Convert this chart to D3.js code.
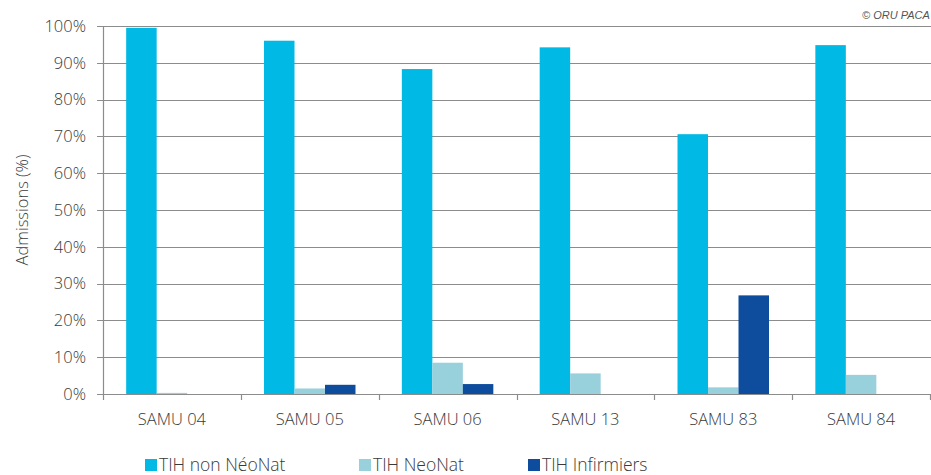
<!DOCTYPE html>
<html>
<head>
<meta charset="utf-8">
<script src="https://cdn.jsdelivr.net/npm/d3@7/dist/d3.min.js"></script>
<style>
  html, body { margin: 0; padding: 0; background: #fff; }
  svg { display: block; font-family: "Open Sans", "DejaVu Sans", sans-serif; }
</style>
</head>
<body>
<svg id="chart" width="931" height="475"></svg>
<script>
// Admissions by SAMU and type of inter-hospital transfer (%)
const categories = ["SAMU 04", "SAMU 05", "SAMU 06", "SAMU 13", "SAMU 83", "SAMU 84"];
const seriesNames = ["TIH non NéoNat", "TIH NeoNat", "TIH Infirmiers"];
const nonNeoNat = [99.5, 96.0, 88.3, 94.2, 70.6, 94.8];
const neoNat = [0.3, 1.5, 8.5, 5.6, 1.8, 5.2];
const infirmiers = [0, 2.5, 2.7, 0, 26.8, 0];
const yTicks = [0, 10, 20, 30, 40, 50, 60, 70, 80, 90, 100];
const colors = ["#00B9E4", "#98D0DC", "#0E4C9E"];

const series = [nonNeoNat, neoNat, infirmiers];

const svg = d3.select("#chart");
const margin = { left: 103, right: 1, top: 26, bottom: 81 };
const W = 931, H = 475;
const textColor = "#3a3a3a";
const fontSize = 16.5;

const x = d3.scaleBand()
  .domain(categories)
  .range([margin.left, W - margin.right])
  .paddingInner(0)
  .paddingOuter(0);

const xInner = d3.scaleBand()
  .domain(seriesNames)
  .range([0, x.bandwidth()])
  .paddingOuter(0.76)
  .paddingInner(0);

const y = d3.scaleLinear()
  .domain([0, 100])
  .range([H - margin.bottom, margin.top]);

// horizontal gridlines
svg.append("g")
  .selectAll("line")
  .data(yTicks)
  .join("line")
  .attr("x1", margin.left - 6)
  .attr("x2", W)
  .attr("y1", d => Math.round(y(d)) + 0.5)
  .attr("y2", d => Math.round(y(d)) + 0.5)
  .attr("stroke", "#8c8c8c")
  .attr("stroke-width", 1.2);

// y tick labels
svg.append("g")
  .selectAll("text")
  .data(yTicks)
  .join("text")
  .attr("x", margin.left - 17)
  .attr("y", d => y(d))
  .attr("dy", "0.35em")
  .attr("text-anchor", "end")
  .attr("font-size", fontSize)
  .attr("font-weight", 300)
  .attr("fill", textColor)
  .text(d => d + "%");

// bars
const groups = svg.append("g")
  .selectAll("g")
  .data(categories)
  .join("g")
  .attr("transform", d => `translate(${x(d)},0)`);

groups.selectAll("rect")
  .data((d, i) => series.map((s, k) => ({ name: seriesNames[k], value: s[i], k })))
  .join("rect")
  .attr("x", d => xInner(d.name))
  .attr("width", xInner.bandwidth())
  .attr("y", d => y(d.value))
  .attr("height", d => y(0) - y(d.value))
  .attr("fill", d => colors[d.k]);

// y axis line
svg.append("line")
  .attr("x1", margin.left + 0.5).attr("x2", margin.left + 0.5)
  .attr("y1", y(100)).attr("y2", y(0))
  .attr("stroke", "#8c8c8c").attr("stroke-width", 1.2);

// x axis with category ticks at band boundaries
const boundaries = categories.map(c => x(c)).concat([x(categories[categories.length - 1]) + x.bandwidth()]);
svg.append("g")
  .selectAll("line")
  .data(boundaries)
  .join("line")
  .attr("x1", d => Math.round(d) + 0.5)
  .attr("x2", d => Math.round(d) + 0.5)
  .attr("y1", y(0))
  .attr("y2", y(0) + 6)
  .attr("stroke", "#8c8c8c")
  .attr("stroke-width", 1.2);

svg.append("g")
  .selectAll("text")
  .data(categories)
  .join("text")
  .attr("x", d => x(d) + x.bandwidth() / 2)
  .attr("y", y(0) + 31)
  .attr("text-anchor", "middle")
  .attr("font-size", fontSize)
  .attr("font-weight", 300)
  .attr("fill", textColor)
  .text(d => d);

// y axis title
svg.append("text")
  .attr("transform", `translate(28,${(y(0) + y(100)) / 2}) rotate(-90)`)
  .attr("text-anchor", "middle")
  .attr("font-size", fontSize)
  .attr("font-weight", 300)
  .attr("fill", textColor)
  .text("Admissions (%)");

// legend
const legendX = [145, 359, 528];
const legend = svg.append("g")
  .selectAll("g")
  .data(seriesNames)
  .join("g")
  .attr("transform", (d, i) => `translate(${legendX[i]},459)`);
legend.append("rect")
  .attr("width", 12).attr("height", 12)
  .attr("fill", (d, i) => colors[i]);
legend.append("text")
  .attr("x", 14).attr("y", 6)
  .attr("dy", "0.35em")
  .attr("font-size", 17.5)
  .attr("font-weight", 300)
  .attr("fill", textColor)
  .text(d => d);

// credit
svg.append("text")
  .attr("x", 862).attr("y", 19)
  .attr("font-family", "Liberation Sans, Arial, sans-serif")
  .attr("font-size", 11)
  .attr("font-style", "italic")
  .attr("fill", "#555")
  .text("© ORU PACA");
</script>
</body>
</html>
